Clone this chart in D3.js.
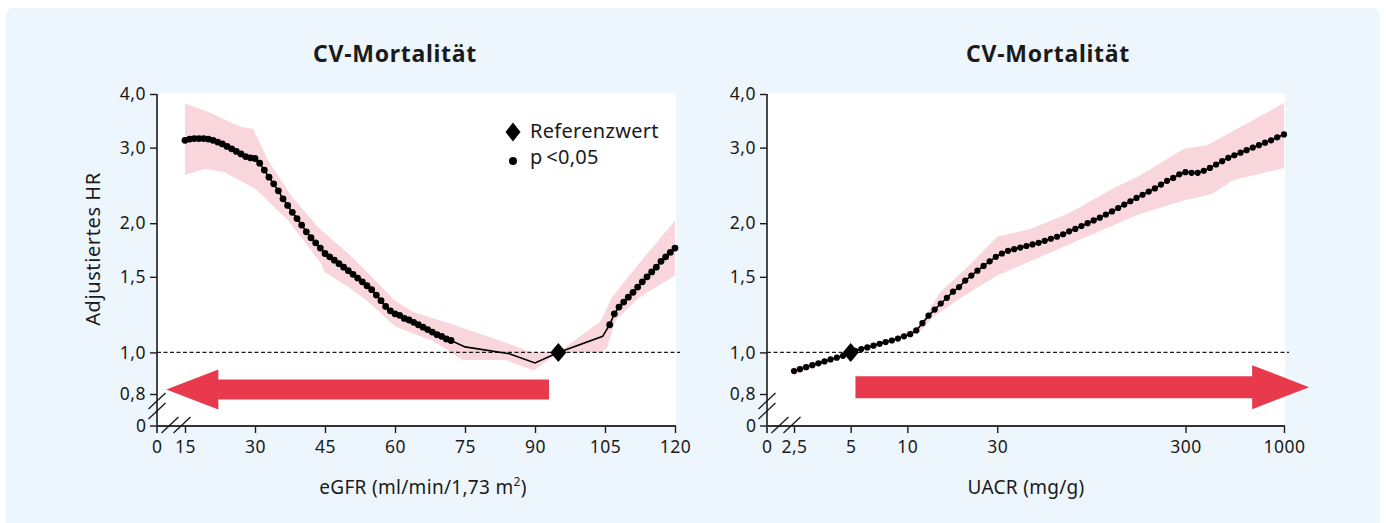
<!DOCTYPE html>
<html>
<head>
<meta charset="utf-8">
<script src="https://cdn.jsdelivr.net/npm/d3@7"></script>
<style>
  html, body { margin: 0; padding: 0; background: #fff; }
  svg { display: block; font-family: "Noto Sans", sans-serif; }
</style>
</head>
<body>
<svg id="chart" width="1386" height="523"></svg>
<script>
// --- Daten ---
const chartTitle = "CV-Mortalität";
const yLabel = "Adjustiertes HR";
const hrTicks = [0.8, 1, 1.5, 2, 3, 4];
const egfrTicks = [15, 30, 45, 60, 75, 90, 105, 120];
const uacrTicks = [2.5, 5, 10, 30, 300, 1000];
const legendLabels = ["Referenzwert", "p\u2009<0,05"];

// eGFR: signifikante Punkte (niedrige eGFR)
const egfrDotsLow = [
  [15,3.12],[16,3.14],[17,3.15],[18,3.15],[19,3.15],[20,3.14],[21,3.12],[22,3.09],
  [23,3.06],[24,3.02],[25,2.98],[26,2.94],[27,2.90],[28,2.86],[29,2.84],[30,2.83],
  [31,2.76],[32,2.66],[33,2.56],[34,2.47],[35,2.38],[36,2.28],[37,2.20],[38,2.12],
  [39,2.05],[40,1.98],[41,1.91],[42,1.85],[43,1.80],[44,1.75],[45,1.70],[46,1.67],
  [47,1.64],[48,1.61],[49,1.58],[50,1.55],[51,1.52],[52,1.49],[53,1.46],[54,1.43],
  [55,1.40],[56,1.36],[57,1.32],[58,1.28],[59,1.25],[60,1.23],[61,1.22],[62,1.20],
  [63,1.19],[64,1.175],[65,1.16],[66,1.145],[67,1.13],[68,1.115],[69,1.10],[70,1.09],
  [71,1.075],[72,1.066]
];
// eGFR: nicht signifikanter Abschnitt (nur Linie)
const egfrLineMid = [[75,1.03],[84.5,0.993],[90,0.945],[95,1.0],[104.5,1.09]];
// eGFR: signifikante Punkte (hohe eGFR)
const egfrDotsHigh = [
  [106,1.16],[107,1.23],[108,1.275],[109,1.31],[110,1.345],[111,1.38],[112,1.42],
  [113,1.46],[114,1.50],[115,1.54],[116,1.58],[117,1.63],[118,1.67],[119,1.71],[120,1.75]
];
const egfrRef = [95, 1.0];
const egfrBandUpper = [
  [15,3.80],[20,3.63],[27,3.35],[29.6,3.32],[32.8,2.80],[38,2.30],[43.5,1.96],[50,1.70],
  [54,1.54],[60,1.32],[64,1.24],[71.6,1.17],[75,1.135],[82,1.07],[89.4,1.0],[95,1.0],
  [99.4,1.085],[104,1.18],[106.5,1.345],[110.8,1.54],[120,2.03]
];
const egfrBandLower = [
  [15,2.59],[19.3,2.68],[23.5,2.63],[30,2.41],[37.1,2.03],[44.2,1.61],[44.9,1.54],[50,1.42],
  [54,1.32],[60,1.15],[64,1.105],[68,1.066],[74.5,0.96],[83.7,0.96],[89.8,0.908],[95,1.0],
  [104.4,1.0],[105.5,1.03],[107.3,1.19],[112.4,1.345],[120,1.51]
];
const egfrArrow = [93, 11, 0.82]; // von, bis, HR

// UACR: alle Punkte signifikant
const uacrDots = [
  [2.5,0.905],[2.69,0.914],[2.9,0.924],[3.13,0.934],[3.37,0.943],[3.63,0.953],[3.91,0.963],
  [4.22,0.972],[4.55,0.982],[4.9,0.993],[5.28,1.008],[5.69,1.018],[6.13,1.027],[6.61,1.037],
  [7.12,1.047],[7.67,1.057],[8.27,1.066],[8.91,1.077],[9.6,1.09],[10.35,1.103],[11.15,1.125],
  [12.02,1.17],[12.95,1.218],[13.96,1.258],[15.04,1.30],[16.21,1.34],[17.47,1.385],[18.82,1.42],
  [20.29,1.47],[21.86,1.51],[23.56,1.55],[25.39,1.59],[27.36,1.63],[29.48,1.67],[31.77,1.70],
  [34.24,1.725],[36.9,1.74],[39.77,1.755],[42.86,1.77],[46.19,1.785],[49.78,1.80],[53.64,1.82],
  [57.81,1.84],[62.3,1.86],[67.14,1.885],[72.35,1.915],[77.97,1.94],[84.03,1.97],[90.56,2.00],
  [97.6,2.03],[105.2,2.06],[113.3,2.095],[122.1,2.13],[131.6,2.17],[141.8,2.21],[152.8,2.25],
  [164.7,2.29],[177.5,2.33],[191.3,2.37],[206.2,2.41],[222.2,2.46],[239.4,2.51],[258,2.55],
  [278.1,2.60],[299.7,2.63],[323,2.62],[348.1,2.62],[375.1,2.65],[404.3,2.69],[435.7,2.74],
  [469.5,2.79],[506,2.84],[545,2.88],[588,2.92],[633,2.96],[683,3.00],[736,3.04],[793,3.08],
  [854,3.12],[921,3.17],[1000,3.22]
];
const uacrRef = [5, 1.0];
const uacrBandUpper = [
  [2.5,0.925],[5,1.0],[10,1.115],[11.7,1.16],[14.9,1.38],[20.8,1.58],[30,1.86],[45,1.94],
  [72,2.11],[128,2.43],[171,2.58],[294,2.98],[390,3.04],[1000,3.81]
];
const uacrBandLower = [
  [2.5,0.885],[5,1.0],[10,1.09],[11.7,1.12],[13.7,1.21],[20.8,1.37],[30,1.51],[80,1.82],
  [171,2.10],[294,2.26],[413,2.34],[540,2.52],[1000,2.69]
];
const uacrArrow = [5.3, 1360, 0.83];

// --- Zeichnen ---
const svg = d3.select("#chart");
const ink = "#1a1a1a";
const bandColor = "#f9d6dc";
const arrowColor = "#e83a4c";
const comma = v => String(v).replace(".", ",");

// Hintergrund
svg.append("rect")
  .attr("x", 6).attr("y", 8)
  .attr("width", 1374).attr("height", 530)
  .attr("rx", 7)
  .attr("fill", "#eef6fd");

function styleTicks(sel) {
  sel.select(".domain").remove();
  sel.selectAll(".tick line").attr("stroke", ink).attr("stroke-width", 1.4);
  sel.selectAll("text").attr("font-size", 17.5).attr("letter-spacing", 0.5)
    .attr("fill", ink).attr("font-family", "Noto Sans");
}

function drawPanel(p) {
  const g = svg.append("g");
  const x = p.x, y = p.y;
  const top = y(4), bottom = p.axisY;
  const left = p.originX, right = x.range()[1] + 1;

  g.append("rect")
    .attr("x", left).attr("y", top - 1)
    .attr("width", right - left).attr("height", bottom - top + 1)
    .attr("fill", "#fff");

  // Konfidenzband
  const pt = d3.line().x(d => x(d[0])).y(d => y(d[1]));
  const poly = p.bandUpper.concat(p.bandLower.slice().reverse());
  g.append("path")
    .attr("d", pt(poly) + "Z")
    .attr("fill", bandColor);

  // Referenzlinie HR = 1
  g.append("line")
    .attr("x1", left).attr("x2", right + 4)
    .attr("y1", y(1)).attr("y2", y(1))
    .attr("stroke", ink).attr("stroke-width", 1.2)
    .attr("stroke-dasharray", "4,2.5");

  // Pfeil
  const [from, to, hr] = p.arrow;
  const xa = x(from), xt = x(to), yc = y(hr);
  const dir = Math.sign(xt - xa);
  const xb = xt - dir * p.headLen;
  const s = p.shaft / 2, h = p.head / 2;
  g.append("path")
    .attr("d", `M${xa},${yc - s}L${xb},${yc - s}L${xb},${yc - h}L${xt},${yc}L${xb},${yc + h}L${xb},${yc + s}L${xa},${yc + s}Z`)
    .attr("fill", arrowColor);

  // Kurve
  g.append("path")
    .attr("d", pt(p.curve))
    .attr("fill", "none")
    .attr("stroke", "#000")
    .attr("stroke-width", 1.6);

  g.selectAll("circle.dot")
    .data(p.dots)
    .join("circle")
    .attr("class", "dot")
    .attr("cx", d => x(d[0]))
    .attr("cy", d => y(d[1]))
    .attr("r", p.r)
    .attr("fill", "#000");

  g.append("path")
    .attr("d", "M0,-9.5L8,0L0,9.5L-8,0Z")
    .attr("transform", `translate(${x(p.ref[0])},${y(p.ref[1])})`)
    .attr("fill", "#000");

  // y-Achse
  g.append("g")
    .attr("transform", `translate(${left},0)`)
    .call(d3.axisLeft(y).tickValues(hrTicks).tickSize(7).tickPadding(4)
      .tickFormat(d => d3.format(".1f")(d).replace(".", ",")))
    .call(styleTicks);

  // x-Achse
  g.append("g")
    .attr("transform", `translate(0,${bottom})`)
    .call(d3.axisBottom(x).tickValues(p.ticks).tickSize(7).tickPadding(8)
      .tickFormat(comma))
    .call(styleTicks);

  // Null-Markierungen (Achsenbruch)
  g.append("line").attr("x1", left - 7).attr("x2", left).attr("y1", bottom).attr("y2", bottom)
    .attr("stroke", ink).attr("stroke-width", 1.4);
  g.append("text").attr("x", left - 11).attr("y", bottom).attr("dy", "0.34em")
    .attr("text-anchor", "end").attr("font-size", 17.5).attr("fill", ink).text("0");
  g.append("text").attr("x", left).attr("y", bottom + 15).attr("dy", "0.71em")
    .attr("text-anchor", "middle").attr("font-size", 17.5).attr("fill", ink).text("0");

  // Achsenlinien
  g.append("line").attr("x1", left).attr("x2", left).attr("y1", top).attr("y2", bottom + 7)
    .attr("stroke", ink).attr("stroke-width", 1.6);
  g.append("line").attr("x1", left - 1).attr("x2", x.range()[1] + 1).attr("y1", bottom).attr("y2", bottom)
    .attr("stroke", "#333").attr("stroke-width", 2);

  // Bruchstriche
  const slash = (cx, cy) => g.append("line")
    .attr("x1", cx - 8.5).attr("y1", cy + 8)
    .attr("x2", cx + 8.5).attr("y2", cy - 8)
    .attr("stroke", ink).attr("stroke-width", 1.3);
  slash(left, 401); slash(left, 411);
  slash(left + 13, 425); slash(left + 25, 425);

  // Titel und Beschriftungen
  g.append("text").attr("x", p.titleX).attr("y", 62)
    .attr("text-anchor", "middle").attr("font-size", 23).attr("letter-spacing", 0.7)
    .attr("font-weight", "bold").attr("fill", ink).text(chartTitle);
  g.append("text").attr("x", p.labelX).attr("y", 494)
    .attr("text-anchor", "middle").attr("font-size", 19).attr("letter-spacing", 0.3)
    .attr("fill", ink).html(p.xLabel);
}

const yLeft = d3.scaleLog().domain([0.8, 4]).range([394, 94]);
const xLeft = d3.scaleLinear().domain([15, 120]).range([185, 675]);
const yRight = d3.scaleLog().domain([0.8, 4]).range([394, 94]);
const xRight = d3.scaleLog().domain([2.5, 1000]).range([794, 1284]);

drawPanel({
  x: xLeft, y: yLeft, originX: 157, axisY: 426,
  ticks: egfrTicks,
  curve: egfrDotsLow.concat(egfrLineMid, egfrDotsHigh),
  dots: egfrDotsLow.concat(egfrDotsHigh),
  ref: egfrRef, bandUpper: egfrBandUpper, bandLower: egfrBandLower,
  arrow: egfrArrow, headLen: 52, shaft: 20, head: 40, r: 3.4,
  titleX: 395, labelX: 423,
  xLabel: 'eGFR (ml/min/1,73 m<tspan dy="-8" font-size="12">2</tspan><tspan dy="8">)</tspan>'
});

drawPanel({
  x: xRight, y: yRight, originX: 767, axisY: 426,
  ticks: uacrTicks,
  curve: uacrDots,
  dots: uacrDots,
  ref: uacrRef, bandUpper: uacrBandUpper, bandLower: uacrBandLower,
  arrow: uacrArrow, headLen: 57, shaft: 22, head: 44, r: 3.1,
  titleX: 1048, labelX: 1026,
  xLabel: "UACR (mg/g)"
});

// y-Achsentitel (links)
svg.append("text")
  .attr("transform", "translate(100,249) rotate(-90)")
  .attr("text-anchor", "middle").attr("font-size", 20).attr("letter-spacing", 0.6)
  .attr("fill", ink)
  .text(yLabel);

// Legende
const lg = svg.append("g").attr("transform", "translate(513,0)");
lg.append("path").attr("d", "M0,-9.5L7.5,0L0,9.5L-7.5,0Z")
  .attr("transform", "translate(0,132)").attr("fill", "#000");
lg.append("circle").attr("cx", 0).attr("cy", 161).attr("r", 4).attr("fill", "#000");
lg.selectAll("text.leg")
  .data(legendLabels)
  .join("text")
  .attr("class", "leg")
  .attr("x", 17)
  .attr("y", (d, i) => 138 + i * 26)
  .attr("font-size", 20).attr("letter-spacing", 0.3).attr("fill", ink)
  .text(d => d);
</script>
</body>
</html>
